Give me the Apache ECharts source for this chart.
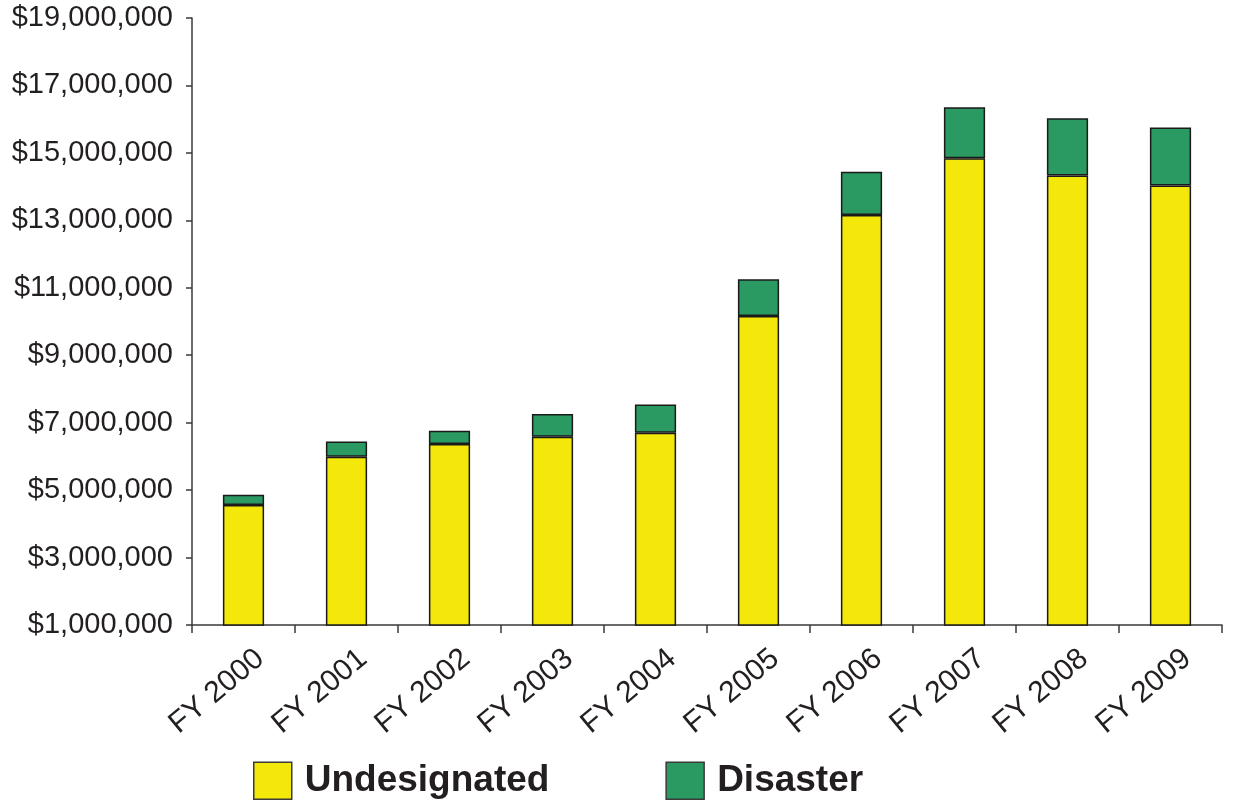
<!DOCTYPE html>
<html>
<head>
<meta charset="utf-8">
<script src="https://cdn.jsdelivr.net/npm/echarts@6/dist/echarts.min.js"></script>
<style>
  html, body { margin: 0; padding: 0; background: #ffffff; }
  #chart { width: 1235px; height: 811px; }
</style>
</head>
<body>
<div id="chart"></div>
<script>
// Fiscal years on the category axis
const years = ['FY 2000', 'FY 2001', 'FY 2002', 'FY 2003', 'FY 2004',
               'FY 2005', 'FY 2006', 'FY 2007', 'FY 2008', 'FY 2009'];

// Undesignated funding per year (dollars)
const undesignated = [4560000, 5990000, 6370000, 6580000, 6700000,
                      10160000, 13160000, 14840000, 14330000, 14030000];

// Disaster funding per year (dollars), stacked on top of undesignated
const disaster = [300000, 450000, 390000, 680000, 840000,
                  1090000, 1280000, 1510000, 1700000, 1720000];

// Value axis range
const yMin = 1000000;
const yMax = 19000000;
const yStep = 2000000;

const fmt = v => '$' + Math.round(v).toLocaleString('en-US');

const FONT = "'Liberation Sans', Arial, Helvetica, sans-serif";

const chart = echarts.init(document.getElementById('chart'), null, { renderer: 'canvas' });

const barBorder = { borderColor: '#1a1a1a', borderWidth: 1.5 };

chart.setOption({
  animation: false,
  backgroundColor: '#ffffff',
  textStyle: { fontFamily: FONT },
  grid: { left: 192, right: 13, top: 18, bottom: 186, containLabel: false },
  legend: {
    padding: 0,
    bottom: 11,
    left: 253,
    itemGap: 116,
    itemWidth: 38,
    itemHeight: 37,
    icon: 'rect',
    itemStyle: { borderColor: '#3a3a3a', borderWidth: 1.5 },
    textStyle: { fontFamily: FONT, fontSize: 37, fontWeight: 'bold', color: '#231f20', padding: [0, 0, 0, 8] },
    data: ['Undesignated', 'Disaster']
  },
  xAxis: {
    type: 'category',
    data: years,
    boundaryGap: true,
    axisLine: { lineStyle: { color: '#3a3a3a', width: 1.5 } },
    axisTick: { show: true, length: 8, lineStyle: { color: '#3a3a3a', width: 1.5 } },
    axisLabel: {
      rotate: 40,
      fontFamily: FONT,
      fontSize: 30,
      color: '#231f20',
      margin: 10,
      verticalAlign: 'top',
      padding: [11, 0, 0, 0]
    }
  },
  yAxis: {
    type: 'value',
    min: yMin,
    max: yMax,
    interval: yStep,
    splitLine: { show: false },
    axisLine: { show: true, lineStyle: { color: '#3a3a3a', width: 1.5 } },
    axisTick: { show: true, length: 6, lineStyle: { color: '#3a3a3a', width: 1.5 } },
    axisLabel: {
      fontFamily: FONT,
      fontSize: 29,
      color: '#231f20',
      margin: 19,
      formatter: fmt
    }
  },
  series: [
    {
      name: 'Undesignated',
      type: 'bar',
      stack: 'total',
      data: undesignated,
      barWidth: '40%',
      itemStyle: Object.assign({ color: '#f4e80a' }, barBorder)
    },
    {
      name: 'Disaster',
      type: 'bar',
      stack: 'total',
      data: disaster,
      barWidth: '40%',
      itemStyle: Object.assign({ color: '#2b9a62' }, barBorder)
    }
  ]
});
</script>
</body>
</html>
